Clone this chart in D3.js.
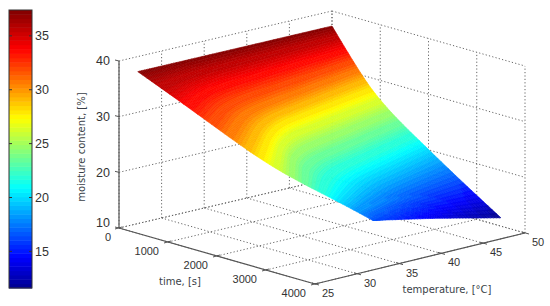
<!DOCTYPE html>
<html><head><meta charset="utf-8">
<script src="https://cdn.jsdelivr.net/npm/d3@7/dist/d3.min.js"></script>
<style>html,body{margin:0;padding:0;background:#fff}svg{display:block}text{font-family:"Liberation Sans",sans-serif;fill:#333}.lab{font-family:"DejaVu Sans",sans-serif;fill:#3a3f48}</style>
</head><body><div id="c"></div>
<script>
const timeTicks=[0,1000,2000,3000,4000];
const tempTicks=[25,30,35,40,45,50];
const moistTicks=[10,20,30,40];
const barTicks=[15,20,25,30,35];
// surface: rows of (low edge, knee, high edge) points
const timeLow=[0,950,2150,2605,2920,3200,3484,3484];
const tempLow=[27.2,27.2,26.25,27.3,29.4,31.7,34.9,34.9];
const moistLow=[37.3,33.8,30.5,27.4,24,20.9,16.5,16.5];
const timeMid=[0,530,1264,1360,2012,2580,3000,3436];
const tempMid=[31,31.5,33.35,36,34,36.7,42.5,42.5];
const moistMid=[37.3,33.8,30.5,27.4,24,20.9,16.5,14];
const timeHigh=[0,290,575,870,1333,1862,2600,3500];
const tempHigh=[50,50,50,50,50,50,50,50];
const moistHigh=[37.3,33.8,30.5,27.4,24,20.9,16.5,11.5];
const colorDomain=[11.6,37.4];
const jetStops=[0,.11,.36,.61,.86,1];
const jetColors=["#00008f","#0000ff","#00ffff","#ffff00","#ff0000","#800000"];

const W=550,H=306;
const svg=d3.select("#c").append("svg").attr("width",W).attr("height",H);
const O=[119,228],F=[315,284],B=[332,178],R=[525,233];
const uS=d3.scaleLinear().domain([0,4000]).range([0,1]);
const vS=d3.scaleLinear().domain([25,50]).range([0,1]);
const zS=d3.scaleLinear().domain([10,40]).range([0,167]);
function P(t,T,z){const u=uS(t),v=vS(T);
  const m=i=>(1-u)*(1-v)*O[i]+u*(1-v)*F[i]+(1-u)*v*B[i]+u*v*R[i];
  return [m(0),m(1)-zS(z)];}
const jet=d3.scaleLinear().domain(jetStops).range(jetColors).interpolate(d3.interpolateRgb);
const frac=d3.scaleLinear().domain(colorDomain).range([0,1]).clamp(true);
const col=z=>jet((Math.floor(frac(z)*63.999)+.5)/64);

function seg(a,b,g){g.append("line").attr("x1",a[0]).attr("y1",a[1]).attr("x2",b[0]).attr("y2",b[1]);}
const grid=svg.append("g").attr("stroke","#666").attr("stroke-width",1).attr("stroke-dasharray","1.2 2.2").attr("fill","none");
moistTicks.forEach(z=>{seg(P(0,25,z),P(0,50,z),grid);seg(P(0,50,z),P(4000,50,z),grid);});
tempTicks.forEach(T=>{seg(P(0,T,10),P(4000,T,10),grid);seg(P(0,T,10),P(0,T,40),grid);});
timeTicks.forEach(t=>{seg(P(t,25,10),P(t,50,10),grid);seg(P(t,50,10),P(t,50,40),grid);});

// shaded surface: fine facets, smoothed between the read rows and round the knee
const surf=svg.append("g");
const KNEE=.3,W_K=.13,NR=72,NC=64;
const sp=a=>d3.interpolateBasis(a);
const cols=[[timeLow,timeMid,timeHigh],[tempLow,tempMid,tempHigh],[moistLow,moistMid,moistHigh]].map(c=>c.map(sp));
function across(lo,mi,hi,s){
  const piece=x=>x<KNEE?lo+(mi-lo)*x/KNEE:mi+(hi-mi)*(x-KNEE)/(1-KNEE);
  if(Math.abs(s-KNEE)>=W_K)return piece(s);
  const a=piece(KNEE-W_K),c=piece(KNEE+W_K),q=(s-KNEE+W_K)/(2*W_K);
  return (1-q)*(1-q)*a+2*q*(1-q)*mi+q*q*c;
}
function node(fr,s){const v=cols.map(c=>across(c[0](fr),c[1](fr),c[2](fr),s));return {t:v[0],T:v[1],z:v[2]};}
const toP=n=>P(n.t,n.T,n.z);
for(let r=0;r<NR;r++)for(let c=0;c<NC;c++){
  const a=node(r/NR,c/NC),b=node(r/NR,(c+1)/NC),d=node((r+1)/NR,(c+1)/NC),e=node((r+1)/NR,c/NC);
  const cc=col((a.z+b.z+d.z+e.z)/4);
  surf.append("polygon").attr("points",[a,b,d,e].map(toP).map(p=>p.map(v=>v.toFixed(2)).join(",")).join(" ")).attr("fill",cc).attr("stroke",cc).attr("stroke-width",.6);
}

// axes
const ax=svg.append("g").attr("stroke","#555").attr("stroke-width",1.2).attr("fill","none");
seg(P(0,25,10),P(0,25,40),ax);seg(P(0,25,10),P(4000,25,10),ax);seg(P(4000,25,10),P(4000,50,10),ax);
const tk=svg.append("g").attr("stroke","#555").attr("stroke-width",1);
moistTicks.forEach(z=>{const p=P(0,25,z);seg([p[0]-4,p[1]-1],p,tk);});
timeTicks.forEach(t=>{const p=P(t,25,10);seg([p[0]-4,p[1]+1],[p[0]+3,p[1]-1],tk);});
tempTicks.forEach(T=>{const p=P(4000,T,10);seg([p[0]-3,p[1]-1],[p[0]+4,p[1]+1],tk);});

const txt=svg.append("g").attr("font-size",12.5);
moistTicks.forEach(z=>{const p=P(0,25,z);txt.append("text").attr("x",p[0]-9).attr("y",p[1]+(z==10?-1:0)).attr("dy",z==10?"0":".35em").attr("text-anchor","end").text(z);});
const t2=svg.append("g").attr("font-size",11);
timeTicks.forEach(t=>{const p=P(t,25,10);t2.append("text").attr("x",p[0]-(t==0?8:9)).attr("y",p[1]+13).attr("text-anchor","end").text(t);});
tempTicks.forEach(T=>{const p=P(4000,T,10);t2.append("text").attr("x",p[0]+7).attr("y",p[1]+13).text(T);});
svg.append("text").attr("class","lab").attr("font-size",10).attr("transform","translate(85,147) rotate(-90)").attr("text-anchor","middle").text("moisture content, [%]");
svg.append("text").attr("class","lab").attr("font-size",10).attr("x",180).attr("y",285).attr("text-anchor","middle").text("time, [s]");
svg.append("text").attr("class","lab").attr("font-size",10).attr("x",447).attr("y",293).attr("text-anchor","middle").text("temperature, [°C]");

// colorbar
const barY=d3.scaleLinear().domain(colorDomain).range([288,10]);
const cb=svg.append("g");
d3.range(64).forEach(i=>{const v0=colorDomain[0]+(colorDomain[1]-colorDomain[0])*i/64,v1=colorDomain[0]+(colorDomain[1]-colorDomain[0])*(i+1)/64;
  cb.append("rect").attr("x",9).attr("width",23).attr("y",barY(v1)).attr("height",barY(v0)-barY(v1)+.5).attr("fill",jet((i+.5)/64));});
cb.append("rect").attr("x",9).attr("y",10).attr("width",23).attr("height",278).attr("fill","none").attr("stroke","#333");
barTicks.forEach(v=>{const y=barY(v);
  cb.append("line").attr("x1",9).attr("x2",12).attr("y1",y).attr("y2",y).attr("stroke","#333");
  cb.append("line").attr("x1",29).attr("x2",32).attr("y1",y).attr("y2",y).attr("stroke","#333");
  cb.append("text").attr("x",35).attr("y",y).attr("dy",".35em").attr("font-size",12.5).text(v);});
</script></body></html>
